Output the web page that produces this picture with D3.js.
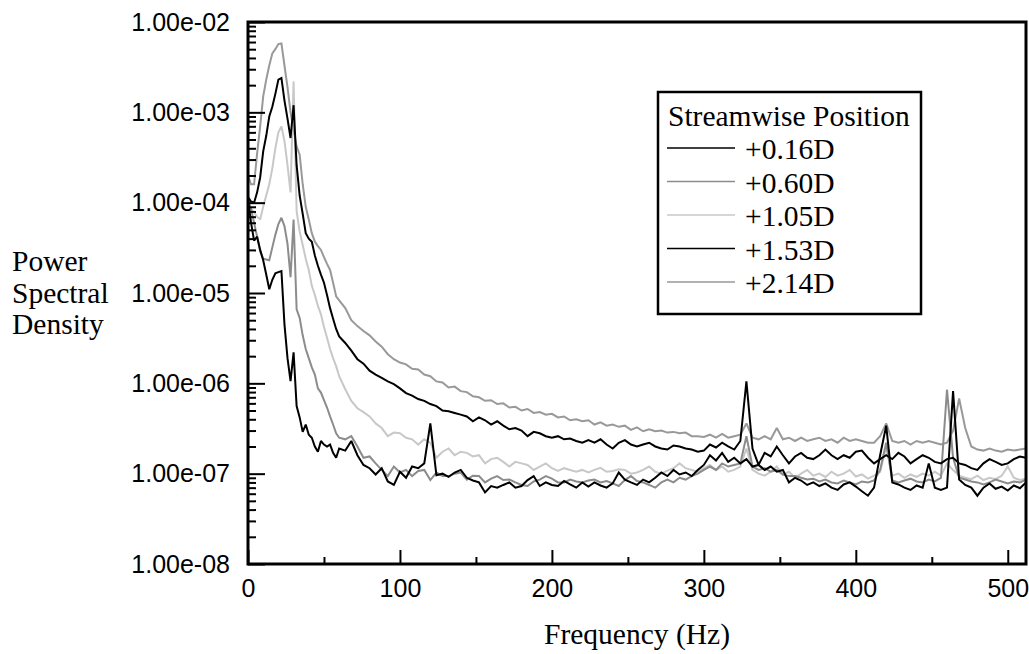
<!DOCTYPE html>
<html><head><meta charset="utf-8">
<script src="https://cdn.jsdelivr.net/npm/d3@7"></script>
<style>
body{margin:0;background:#fff;}
svg{display:block;}
</style></head><body>
<svg id="chart" width="1029" height="654"></svg>
<script>
// Frequency grid (Hz)
const freqs = [0,2,4,6,8,10,12,14,16,18,
20,22,24,26,28,30,32,34,36,38,
40,42,44,46,48,50,52,54,56,58,
60,64,68,72,76,80,84,88,92,96,100,
104,108,112,116,120,124,128,132,136,140,
144,148,152,156,160,164,168,172,176,180,
184,188,192,196,200,204,208,212,216,220,
224,228,232,236,240,244,248,252,256,260,
264,268,272,276,280,284,288,292,296,300,
304,308,312,316,320,324,328,332,336,340,
344,348,352,356,360,364,368,372,376,380,
384,388,392,396,400,404,408,412,416,420,
424,428,432,436,440,444,448,452,456,460,
464,468,472,476,480,484,488,492,496,500,
504,508,512];

// +0.16D
const psd016 = [1.1e-4,6.0e-5,3.8e-5,4.2e-5,3.0e-5,2.3e-5,1.6e-5,1.1e-5,1.4e-5,1.65e-5,
1.7e-5,1.75e-5,4.5e-6,1.9e-6,1.06e-6,2.2e-6,5.6e-7,4.2e-7,2.9e-7,3.5e-7,
2.7e-7,2.5e-7,2.0e-7,1.75e-7,2.3e-7,2.1e-7,2.0e-7,2.1e-7,1.7e-7,1.5e-7,
1.9e-7,1.8e-7,2.3e-7,1.6e-7,1.25e-7,1.15e-7,9.8e-8,1.15e-7,8.2e-8,7.5e-8,1.05e-7,
9.0e-8,1.2e-7,1.15e-7,1.3e-7,3.6e-7,9.6e-8,1.0e-7,9.2e-8,1.03e-7,1.1e-7,
9.0e-8,8.4e-8,8.0e-8,6.2e-8,7.3e-8,7.0e-8,7.5e-8,8.0e-8,7.0e-8,7.3e-8,
8.5e-8,9.4e-8,7.3e-8,8.0e-8,7.5e-8,7.3e-8,8.3e-8,7.6e-8,7.0e-8,8.0e-8,
7.2e-8,8.0e-8,7.4e-8,7.0e-8,7.8e-8,1.03e-7,8.6e-8,8.0e-8,7.5e-8,8.6e-8,
8.0e-8,9.0e-8,1.03e-7,9.4e-8,1.1e-7,9.8e-8,1.03e-7,9.4e-8,1.1e-7,1.25e-7,
1.6e-7,1.4e-7,1.7e-7,1.35e-7,1.5e-7,1.3e-7,1.45e-7,1.2e-7,1.25e-7,1.1e-7,
1.2e-7,1.05e-7,1.1e-7,8.0e-8,9.0e-8,8.4e-8,7.5e-8,8.0e-8,7.3e-8,7.8e-8,
7.0e-8,6.6e-8,7.6e-8,8.0e-8,7.2e-8,6.4e-8,5.7e-8,7.0e-8,1.6e-7,3.4e-7,
8.0e-8,7.6e-8,7.0e-8,6.6e-8,7.4e-8,7.0e-8,1.3e-7,7.0e-8,6.6e-8,7.0e-8,
8.2e-7,8.6e-8,7.5e-8,7.0e-8,5.7e-8,7.0e-8,7.8e-8,6.8e-8,7.2e-8,6.5e-8,
7.4e-8,6.9e-8,8.0e-8];

// +0.60D
const psd060 = [1.1e-4,8.5e-5,6.0e-5,4.2e-5,2.9e-5,2.4e-5,2.35e-5,2.3e-5,3.2e-5,4.4e-5,
5.8e-5,6.8e-5,5.5e-5,3.5e-5,1.5e-5,6.5e-5,6.6e-6,5.3e-6,3.4e-6,2.4e-6,
1.9e-6,1.5e-6,1.25e-6,8.8e-7,7.9e-7,6.5e-7,5.4e-7,4.3e-7,3.5e-7,2.8e-7,
2.5e-7,2.4e-7,2.6e-7,2.0e-7,1.5e-7,1.55e-7,1.3e-7,1.1e-7,9.4e-8,1.2e-7,1.03e-7,
1.1e-7,9.4e-8,1.07e-7,1.1e-7,8.5e-8,1.03e-7,9.4e-8,9.4e-8,1.0e-7,1.03e-7,
8.6e-8,9.5e-8,9.4e-8,8.0e-8,8.8e-8,9.4e-8,8.5e-8,8.6e-8,8.0e-8,7.5e-8,
7.3e-8,8.2e-8,8.6e-8,9.4e-8,8.8e-8,8.0e-8,8.0e-8,8.6e-8,8.2e-8,8.0e-8,
8.4e-8,8.6e-8,8.0e-8,8.3e-8,7.8e-8,7.3e-8,8.5e-8,9.4e-8,8.3e-8,8.0e-8,
7.5e-8,7.0e-8,8.0e-8,8.6e-8,8.0e-8,9.0e-8,8.6e-8,9.4e-8,1.0e-7,1.1e-7,
1.2e-7,1.1e-7,1.3e-7,1.2e-7,1.25e-7,1.3e-7,2.6e-7,1.2e-7,1.1e-7,1.15e-7,
1.05e-7,1.1e-7,9.8e-8,9.4e-8,9.4e-8,9.0e-8,8.6e-8,8.8e-8,8.2e-8,8.6e-8,
8.0e-8,7.8e-8,8.4e-8,8.0e-8,7.6e-8,8.2e-8,8.0e-8,8.4e-8,1.1e-7,2.2e-7,
8.4e-8,8.0e-8,8.4e-8,8.8e-8,8.2e-8,8.0e-8,8.6e-8,8.2e-8,9.0e-8,8.5e-7,
1.5e-7,9.0e-8,8.6e-8,8.2e-8,8.0e-8,7.6e-8,8.0e-8,8.6e-8,8.2e-8,7.8e-8,
8.2e-8,8.0e-8,8.6e-8];

// +1.05D
const psd105 = [1.0e-4,8.5e-5,7.8e-5,7.0e-5,6.5e-5,9.0e-5,1.2e-4,1.6e-4,2.4e-4,4.0e-4,
6.0e-4,7.0e-4,4.8e-4,2.6e-4,1.3e-4,2.2e-3,8.0e-5,4.8e-5,3.4e-5,2.4e-5,
1.8e-5,1.2e-5,9.5e-6,7.2e-6,5.8e-6,4.2e-6,3.2e-6,2.4e-6,1.9e-6,1.55e-6,
1.2e-6,8.6e-7,6.4e-7,5.3e-7,4.8e-7,4.3e-7,3.6e-7,3.2e-7,2.6e-7,2.85e-7,2.8e-7,
2.5e-7,2.4e-7,2.1e-7,2.4e-7,2.2e-7,1.5e-7,1.75e-7,1.9e-7,1.6e-7,1.75e-7,
1.7e-7,1.55e-7,1.6e-7,1.3e-7,1.45e-7,1.5e-7,1.35e-7,1.2e-7,1.35e-7,1.3e-7,
1.25e-7,1.1e-7,1.2e-7,1.3e-7,1.15e-7,1.07e-7,1.15e-7,1.1e-7,1.05e-7,1.1e-7,
1.03e-7,1.1e-7,1.16e-7,1.05e-7,1.07e-7,1.12e-7,1.1e-7,1.0e-7,1.03e-7,1.1e-7,
1.2e-7,1.05e-7,1.0e-7,1.08e-7,1.15e-7,1.3e-7,1.15e-7,1.1e-7,1.05e-7,1.15e-7,
1.25e-7,1.1e-7,1.2e-7,1.05e-7,1.1e-7,1.2e-7,1.9e-7,1.1e-7,1.0e-7,9.5e-8,
1.05e-7,1.2e-7,9.8e-8,1.05e-7,9.0e-8,1.0e-7,1.1e-7,9.5e-8,1.0e-7,9.2e-8,
1.05e-7,9.5e-8,1.0e-7,1.1e-7,9.3e-8,9.8e-8,8.8e-8,9.5e-8,1.05e-7,2.0e-7,
9.5e-8,1.0e-7,9.0e-8,9.8e-8,9.2e-8,1.0e-7,9.5e-8,1.05e-7,9.5e-8,1.3e-7,
1.1e-7,9.5e-8,9.0e-8,8.7e-8,9.5e-8,8.5e-8,9.0e-8,8.7e-8,9.5e-8,1.2e-7,
9.0e-8,8.5e-8,8.8e-8];

// +1.53D
const psd153 = [1.15e-4,1.03e-4,1.0e-4,1.3e-4,1.9e-4,3.7e-4,5.5e-4,9.0e-4,1.15e-3,1.6e-3,
2.3e-3,2.4e-3,1.35e-3,8.5e-4,5.2e-4,1.2e-3,2.6e-4,1.2e-4,7.5e-5,4.6e-5,
4.0e-5,3.7e-5,2.6e-5,2.0e-5,1.6e-5,1.3e-5,9.5e-6,6.8e-6,5.2e-6,4.0e-6,
3.3e-6,2.8e-6,2.3e-6,1.85e-6,1.65e-6,1.38e-6,1.25e-6,1.15e-6,1.05e-6,9.8e-7,8.8e-7,
7.8e-7,7.3e-7,6.7e-7,6.4e-7,5.9e-7,5.6e-7,5.0e-7,4.9e-7,4.7e-7,4.5e-7,
4.3e-7,3.8e-7,4.2e-7,3.9e-7,3.5e-7,3.8e-7,3.4e-7,3.1e-7,3.2e-7,3.0e-7,
2.6e-7,2.9e-7,2.8e-7,2.6e-7,2.5e-7,2.6e-7,2.4e-7,2.45e-7,2.3e-7,2.2e-7,
2.35e-7,2.2e-7,2.4e-7,2.1e-7,1.9e-7,2.2e-7,2.35e-7,2.1e-7,2.0e-7,2.1e-7,
2.2e-7,2.0e-7,1.9e-7,1.85e-7,2.05e-7,2.0e-7,1.9e-7,1.85e-7,1.75e-7,1.8e-7,
2.1e-7,1.95e-7,2.2e-7,2.0e-7,1.85e-7,2.3e-7,1.05e-6,1.9e-7,1.25e-7,1.7e-7,
1.55e-7,2.0e-7,1.6e-7,1.3e-7,1.55e-7,1.7e-7,1.5e-7,1.45e-7,1.6e-7,1.85e-7,
1.6e-7,1.45e-7,1.6e-7,1.5e-7,1.75e-7,1.8e-7,1.5e-7,1.3e-7,1.45e-7,1.6e-7,
1.45e-7,1.7e-7,1.55e-7,1.3e-7,1.45e-7,1.6e-7,1.5e-7,1.35e-7,1.3e-7,1.45e-7,
1.5e-7,1.3e-7,1.25e-7,1.15e-7,1.1e-7,1.3e-7,1.45e-7,1.35e-7,1.25e-7,1.3e-7,
1.45e-7,1.55e-7,1.5e-7];

// +2.14D
const psd214 = [2.0e-4,1.6e-4,1.6e-4,3.5e-4,7.0e-4,1.5e-3,2.3e-3,3.3e-3,4.5e-3,5.0e-3,
5.7e-3,5.8e-3,3.3e-3,1.9e-3,1.0e-3,6.5e-4,4.2e-4,3.4e-4,1.6e-4,9.0e-5,
6.5e-5,4.6e-5,3.7e-5,3.3e-5,3.0e-5,2.5e-5,2.1e-5,1.8e-5,1.3e-5,9.2e-6,
8.3e-6,6.8e-6,5.0e-6,4.3e-6,3.8e-6,3.4e-6,2.9e-6,2.55e-6,2.1e-6,1.85e-6,1.7e-6,
1.62e-6,1.45e-6,1.42e-6,1.25e-6,1.2e-6,1.05e-6,1.02e-6,9.0e-7,9.2e-7,8.2e-7,
8.0e-7,7.2e-7,7.0e-7,6.4e-7,6.5e-7,5.9e-7,6.0e-7,5.4e-7,5.5e-7,5.0e-7,
5.2e-7,4.7e-7,4.8e-7,4.5e-7,4.6e-7,4.2e-7,4.3e-7,3.9e-7,4.0e-7,3.8e-7,
3.9e-7,3.5e-7,3.7e-7,3.4e-7,3.5e-7,3.3e-7,3.4e-7,3.05e-7,3.25e-7,2.95e-7,
3.1e-7,2.95e-7,3.0e-7,2.85e-7,2.9e-7,2.8e-7,2.85e-7,2.6e-7,2.6e-7,2.55e-7,
2.7e-7,2.5e-7,2.75e-7,2.5e-7,2.6e-7,2.7e-7,3.6e-7,2.5e-7,2.4e-7,2.6e-7,
2.4e-7,3.2e-7,2.4e-7,2.5e-7,2.3e-7,2.5e-7,2.3e-7,2.4e-7,2.5e-7,2.3e-7,
2.4e-7,2.2e-7,2.5e-7,2.3e-7,2.4e-7,2.3e-7,2.2e-7,2.2e-7,2.6e-7,3.6e-7,
2.3e-7,2.2e-7,2.3e-7,2.1e-7,2.3e-7,2.2e-7,2.3e-7,2.2e-7,2.1e-7,2.2e-7,
3.0e-7,6.8e-7,3.2e-7,2.0e-7,1.85e-7,1.8e-7,1.9e-7,1.8e-7,1.75e-7,1.85e-7,
1.8e-7,1.85e-7,1.9e-7];

const seriesNames = ["+0.16D","+0.60D","+1.05D","+1.53D","+2.14D"];
const seriesValues = [psd016, psd060, psd105, psd153, psd214];
const seriesColors = ["#000000","#8c8c8c","#c8c8c8","#000000","#999999"];
const drawOrder = [4, 2, 1, 3, 0];

const xTickValues = [0,100,200,300,400,500];
const xMinorTickValues = [50,150,250,350,450];
const yTickValues = [1e-2,1e-3,1e-4,1e-5,1e-6,1e-7,1e-8];
const yTickLabels = ["1.00e-02","1.00e-03","1.00e-04","1.00e-05","1.00e-06","1.00e-07","1.00e-08"];
const legendTitle = "Streamwise Position";
const xTitle = "Frequency (Hz)";
const yTitleLines = ["Power","Spectral","Density"];

const svg = d3.select("#chart");
const plot = {left:248, right:1026, top:22, bottom:564};
const x = d3.scaleLinear().domain([0,512]).range([plot.left, plot.right]);
const y = d3.scaleLog().domain([1e-8,1e-2]).range([plot.bottom, plot.top]);

const sansFont = "'Liberation Sans', Arial, sans-serif";
const serifFont = "'Liberation Serif', 'Times New Roman', serif";

svg.append("defs").append("clipPath").attr("id","clip")
  .append("rect").attr("x",plot.left).attr("y",plot.top)
  .attr("width",plot.right-plot.left).attr("height",plot.bottom-plot.top);

// curves
const line = d3.line().x(d => x(d[0])).y(d => y(d[1]));
const gLines = svg.append("g").attr("clip-path","url(#clip)");
drawOrder.forEach(i => {
  const pts = freqs.map((f,k) => [f, seriesValues[i][k]]);
  gLines.append("path").datum(pts)
    .attr("d", line).attr("fill","none")
    .attr("stroke", seriesColors[i]).attr("stroke-width", 2)
    .attr("stroke-linejoin","miter").attr("stroke-miterlimit", 2);
});

// y minor ticks
const yMinor = [];
for (let e = -8; e < -2; e++) for (let m = 2; m <= 9; m++) yMinor.push(m * Math.pow(10, e));
svg.append("g").attr("transform",`translate(${plot.left},0)`)
  .call(d3.axisLeft(y).tickValues(yMinor).tickSize(-8).tickFormat(""))
  .call(g => g.select(".domain").remove())
  .call(g => g.selectAll("line").attr("stroke","#000").attr("stroke-width",2));

// y major ticks
svg.append("g").attr("transform",`translate(${plot.left},0)`)
  .call(d3.axisLeft(y).tickValues(yTickValues).tickSize(-17).tickPadding(18)
        .tickFormat((d,i) => yTickLabels[i]))
  .call(g => g.select(".domain").remove())
  .call(g => g.selectAll("line").attr("stroke","#000").attr("stroke-width",2))
  .call(g => g.selectAll("text").attr("font-family",sansFont).attr("font-size",25)
        .attr("fill","#000"));

// x minor ticks
svg.append("g").attr("transform",`translate(0,${plot.bottom})`)
  .call(d3.axisBottom(x).tickValues(xMinorTickValues).tickSize(-7).tickFormat(""))
  .call(g => g.select(".domain").remove())
  .call(g => g.selectAll("line").attr("stroke","#000").attr("stroke-width",2));

// x major ticks
svg.append("g").attr("transform",`translate(0,${plot.bottom})`)
  .call(d3.axisBottom(x).tickValues(xTickValues).tickSize(-14).tickPadding(15)
        .tickFormat(d3.format("d")))
  .call(g => g.select(".domain").remove())
  .call(g => g.selectAll("line").attr("stroke","#000").attr("stroke-width",2))
  .call(g => g.selectAll("text").attr("font-family",sansFont).attr("font-size",25)
        .attr("fill","#000"));

// frame
svg.append("rect").attr("x",plot.left).attr("y",plot.top)
  .attr("width",plot.right-plot.left).attr("height",plot.bottom-plot.top)
  .attr("fill","none").attr("stroke","#000").attr("stroke-width",3);

// axis titles
svg.append("text").attr("x",(plot.left+plot.right)/2 + 0).attr("y",644)
  .attr("text-anchor","middle").attr("font-family",serifFont).attr("font-size",29.5)
  .attr("fill","#000").text(xTitle);

const yt = svg.append("text").attr("font-family",serifFont).attr("font-size",29.5).attr("fill","#000");
yTitleLines.forEach((t,i) => {
  yt.append("tspan").attr("x",12).attr("y",271 + i*31.5).text(t);
});

// legend
const lg = {x:658, y:92, w:263, h:222};
const legend = svg.append("g");
legend.append("rect").attr("x",lg.x).attr("y",lg.y).attr("width",lg.w).attr("height",lg.h)
  .attr("fill","#fff").attr("stroke","#000").attr("stroke-width",2.5);
legend.append("text").attr("x",668).attr("y",126).attr("font-family",serifFont)
  .attr("font-size",29.5).attr("fill","#000").text(legendTitle);
seriesNames.forEach((name,i) => {
  const by = 159 + i*33.5;
  legend.append("line").attr("x1",667).attr("x2",735).attr("y1",by-11).attr("y2",by-11)
    .attr("stroke",seriesColors[i]).attr("stroke-width",1.6);
  legend.append("text").attr("x",745).attr("y",by).attr("font-family",serifFont)
    .attr("font-size",29.5).attr("fill","#000").text(name);
});
</script>
</body></html>
